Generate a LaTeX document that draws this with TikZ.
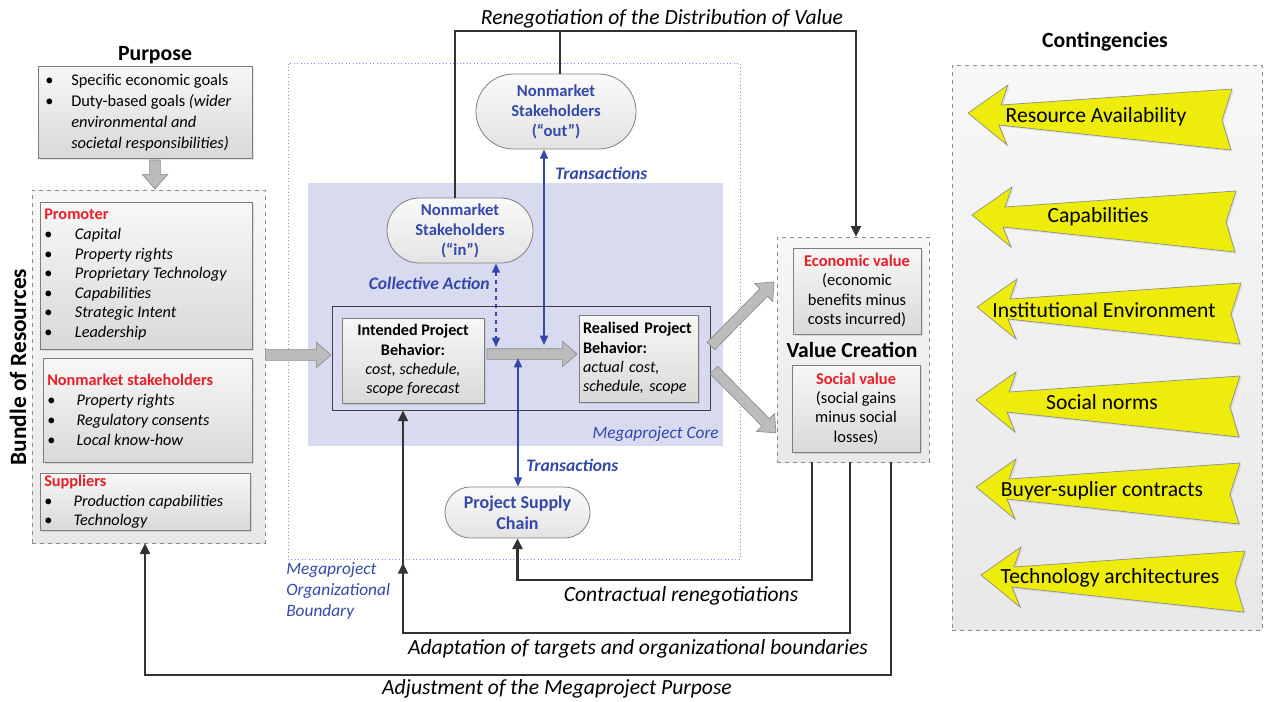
\documentclass[tikz,border=0pt]{standalone}
\usepackage{fontspec}
\setmainfont{Carlito}
\usetikzlibrary{shapes.misc,arrows.meta,shadows,calc}

\definecolor{pred}{RGB}{232,30,40}
\definecolor{pblue}{RGB}{52,72,168}
\definecolor{corefill}{RGB}{216,218,240}
\definecolor{bndblue}{RGB}{130,145,215}
\definecolor{boxline}{RGB}{125,125,125}
\definecolor{ylw}{RGB}{238,236,10}
\definecolor{fbcol}{RGB}{50,50,50}
\definecolor{garr}{RGB}{188,188,188}
\definecolor{garrline}{RGB}{140,140,140}

\newcommand{\fs}[2]{\fontsize{#1}{#2}\selectfont}
\newcommand{\bul}[1]{\makebox[#1][l]{\textbullet}}

\tikzset{
 gbox/.style={draw=boxline, line width=0.6pt, top color=black!3, bottom color=black!15,
   drop shadow={opacity=0.22,shadow xshift=1.5pt,shadow yshift=-1.5pt}, inner sep=0pt},
 dbox/.style={draw=black!45, dashed, line width=0.5pt, top color=black!3, bottom color=black!9, inner sep=0pt},
 pill/.style={rounded rectangle, draw=black!50, line width=0.6pt, top color=black!2, bottom color=black!11,
   inner sep=0pt, align=center, font=\fs{12.5}{15}\bfseries, text=pblue},
 fb/.style={draw=fbcol, line width=1.6pt},
 fbtip/.style={-{Triangle[length=8pt,width=7.5pt]}},
 bl/.style={draw=pblue, line width=1.1pt},
 btips/.style={{Triangle[length=7pt,width=6pt]}-{Triangle[length=7pt,width=6pt]}},
 gblock/.style={fill=garr, draw=garrline, line width=0.5pt},
 ytxt/.style={font=\fs{16.2}{18}, inner sep=0pt},
 body/.style={align=left, inner sep=0pt, anchor=north west},
 bluelab/.style={font=\fs{13.2}{15}\bfseries\itshape, text=pblue, inner sep=0pt},
 fblab/.style={font=\fs{16.2}{18}\itshape, inner sep=0pt},
 ttl/.style={font=\fs{16.3}{18}\bfseries, inner sep=0pt},
}

\newcommand{\blockarr}[2]{%
 \pgfpointdiff{\pgfpointanchor{#1}{center}}{\pgfpointanchor{#2}{center}}%
 \pgfgetlastxy{\bdx}{\bdy}%
 \pgfmathsetmacro\bang{atan2(\bdy,\bdx)}%
 \pgfmathsetmacro\blen{veclen(\bdx,\bdy)}%
 \begin{scope}[shift={(#1)}, rotate=\bang, x=1pt, y=1pt]
  \filldraw[gblock] (0,-4) -- (\blen-11,-4) -- (\blen-11,-9.5) -- (\blen,0)
     -- (\blen-11,9.5) -- (\blen-11,4) -- (0,4) -- cycle;
 \end{scope}}

\newcommand{\yarrow}[6]{%
 \begin{scope}[shift={(#2,#3)}]
  \filldraw[fill=ylw, draw=black!45, line width=0.5pt,
    drop shadow={opacity=0.18,shadow xshift=1.2pt,shadow yshift=-1.2pt}]
    (0,0) -- (40,-28) -- (33,-8) -- (264,-24) -- (254,7) -- (263,37) -- (31,12) -- (39,32) -- cycle;
 \end{scope}
 \node[ytxt] (#1) at (#4,#5) {#6};}

\begin{document}
\begin{tikzpicture}[x=0.75pt,y=-0.75pt]
\useasboundingbox (0,0) rectangle (1264,701);

% ---------------- Contingencies
\node[dbox, minimum width=310*0.75pt, minimum height=565*0.75pt] (cont) at (1107,347.5) {};
\node[ttl] (conttitle) at (1105,42) {Contingencies};
\yarrow{y1}{968}{113}{1096}{117}{Resource Availability}
\yarrow{y2}{972}{215}{1098}{217}{Capabilities}
\yarrow{y3}{977}{307}{1104}{310}{Institutional Environment}
\yarrow{y4}{976}{400}{1102}{402}{Social norms}
\yarrow{y5}{976}{487}{1102}{491}{Buyer-suplier contracts}
\yarrow{y6}{981}{575}{1110}{578}{Technology architectures}

% ---------------- Purpose
\node[ttl] (ptitle) at (155,55) {Purpose};
\node[gbox, minimum width=214*0.75pt, minimum height=92*0.75pt] (purpose) at (145,112) {};
\node[body, font=\fs{12.3}{15.75}] (ptext) at (45,74) {%
\bul{19.5pt}Specific economic goals\\
\bul{19.5pt}Duty-based goals \textit{(wider}\\
\hspace*{19.5pt}\textit{environmental and}\\
\hspace*{19.5pt}\textit{societal responsibilities)}};

% ---------------- Bundle of resources
\node[dbox, minimum width=233*0.75pt, minimum height=353*0.75pt] (bundle) at (148.5,366.5) {};
\node[font=\fs{17.5}{20}\bfseries, inner sep=0pt, rotate=90] (btitle) at (18,367) {Bundle of Resources};
\node[gbox, minimum width=212*0.75pt, minimum height=147*0.75pt] (prom) at (146,275.5) {};
\node[body, font=\fs{12.2}{14.7}] (promt) at (44,209) {%
\textcolor{pred}{\textbf{Promoter}}\\
\bul{23pt}\textit{Capital}\\
\bul{23pt}\textit{Property rights}\\
\bul{23pt}\textit{Proprietary Technology}\\
\bul{23pt}\textit{Capabilities}\\
\bul{23pt}\textit{Strategic Intent}\\
\bul{23pt}\textit{Leadership}};
\node[gbox, minimum width=209*0.75pt, minimum height=104*0.75pt] (nms) at (147.5,410) {};
\node[body, font=\fs{12.2}{15}] (nmst) at (47,374) {%
\textcolor{pred}{\textbf{Nonmarket stakeholders}}\\
\bul{22pt}\textit{Property rights}\\
\bul{22pt}\textit{Regulatory consents}\\
\bul{22pt}\textit{Local know-how}};
\node[gbox, minimum width=210*0.75pt, minimum height=57*0.75pt] (sup) at (145,501.5) {};
\node[body, font=\fs{12.2}{14.7}] (supt) at (44,475) {%
\textcolor{pred}{\textbf{Suppliers}}\\
\bul{22pt}\textit{Production capabilities}\\
\bul{22pt}\textit{Technology}};

% ---------------- Megaproject boundary and core
\node[draw=bndblue, dotted, line width=0.6pt, minimum width=452*0.75pt, minimum height=496*0.75pt] (mob) at (514,311) {};
\node[fill=corefill, inner sep=0pt, minimum width=415*0.75pt, minimum height=263*0.75pt] (core) at (515.5,314.5) {};
\node[font=\fs{13}{15}\itshape, text=pblue, anchor=east, inner sep=0pt] (corelab) at (719,434) {Megaproject Core};
\node[font=\fs{13}{15.75}\itshape, text=pblue, anchor=north west, align=left, inner sep=0pt] (moblab) at (286,562) {Megaproject\\Organizational\\Boundary};

\node[draw=black!75, line width=0.7pt, inner sep=0pt, minimum width=378*0.75pt, minimum height=104*0.75pt] (inner) at (521,358) {};
\node[gbox, minimum width=142*0.75pt, minimum height=85*0.75pt, align=center, font=\fs{12.1}{14.5}] (ipb) at (413,360.5)
 {\textbf{Intended Project}\\\textbf{Behavior:}\\\textit{cost, schedule,}\\\textit{scope forecast}};
\node[gbox, minimum width=119*0.75pt, minimum height=87*0.75pt, align=left, text width=111*0.75pt, font=\fs{12.1}{14.5}] (rpb) at (638.5,358.5)
 {\textbf{Realised Project}\\\textbf{Behavior:}\\\textit{actual cost,}\\\textit{schedule, scope}};

\node[pill, minimum width=146*0.75pt, minimum height=65*0.75pt] (ni) at (460,230.5) {Nonmarket\\Stakeholders\\(“in”)};
\node[pill, minimum width=160*0.75pt, minimum height=75*0.75pt] (no) at (556,111.5) {Nonmarket\\Stakeholders\\(“out”)};
\node[pill, minimum width=145*0.75pt, minimum height=51*0.75pt, font=\fs{13.5}{16}\bfseries] (sc) at (517.5,512.5) {Project Supply\\Chain};

% ---------------- Value creation
\node[dbox, minimum width=152*0.75pt, minimum height=225*0.75pt] (vc) at (853,349.5) {};
\node[gbox, minimum width=128*0.75pt, minimum height=86*0.75pt, align=center, font=\fs{12.3}{14.5}] (econ) at (857,291)
 {\textcolor{pred}{\textbf{Economic value}}\\(economic\\benefits minus\\costs incurred)};
\node[font=\fs{16.2}{18}\bfseries, inner sep=0pt] (vclab) at (852,350) {Value Creation};
\node[gbox, minimum width=128*0.75pt, minimum height=87*0.75pt, align=center, font=\fs{12.3}{14.5}] (soc) at (856,408.5)
 {\textcolor{pred}{\textbf{Social value}}\\(social gains\\minus social\\losses)};

% ---------------- Gray block arrows
\coordinate (g1a) at (155,160); \coordinate (g1b) at (155,189);
\blockarr{g1a}{g1b}
\coordinate (g2b) at (331,355); \coordinate (g2a) at (bundle.east |- g2b);
\blockarr{g2a}{g2b}
\coordinate (g3b) at (577,354); \coordinate (g3a) at (487,354);
\blockarr{g3a}{g3b}
\coordinate (g4a) at (711,346); \coordinate (g4b) at (774,282);
\blockarr{g4a}{g4b}
\coordinate (g5a) at (714,370); \coordinate (g5b) at (776,433);
\blockarr{g5a}{g5b}

% ---------------- Blue arrows
\coordinate (tr1) at (544,345);
\draw[bl,btips] (no.south -| tr1) -- (tr1);
\node[bluelab, anchor=west] (trlab1) at (555,173) {Transactions};
\coordinate (tr2) at (518,358);
\draw[bl,btips] (tr2) -- (sc.north -| tr2);
\node[bluelab, anchor=west] (trlab2) at (526,465) {Transactions};
\coordinate (ca1) at (496,347);
\draw[bl,dashed,btips] (ni.south -| ca1) -- (ca1);
\node[bluelab, anchor=east] (calab) at (490,283) {Collective Action};

% ---------------- Feedback loops
\coordinate (rn1) at (455,31); \coordinate (rn2) at (560,31); \coordinate (rtop) at (856,31);
\draw[fb,fbtip] (ni.north -| rn1) -- (rn1) -- (rtop) -- (vc.north -| rtop);
\draw[fb] (no.north -| rn2) -- (rn2);
\node[fblab] (renlab) at (662,19) {Renegotiation of the Distribution of Value};

\coordinate (cr1) at (812,580);
\draw[fb,fbtip] (vc.south -| cr1) -- (cr1) -| (sc.south);
\node[fblab] (crlab) at (681,596) {Contractual renegotiations};

\coordinate (ad1) at (850,633); \coordinate (ad2) at (403,633); \coordinate (ad3) at (403,563);
\draw[fb,fbtip] (vc.south -| ad1) -- (ad1) -- (ad2) -- (inner.south -| ad2);
\draw[fb,fbtip] (ad2) -- (ad3);
\node[fblab] (adlab) at (638,649) {Adaptation of targets and organizational boundaries};

\coordinate (aj1) at (891,675); \coordinate (aj2) at (145,675);
\draw[fb,fbtip] (vc.south -| aj1) -- (aj1) -- (aj2) -- (bundle.south -| aj2);
\node[fblab] (ajlab) at (557,689) {Adjustment of the Megaproject Purpose};
\end{tikzpicture}
\end{document}
